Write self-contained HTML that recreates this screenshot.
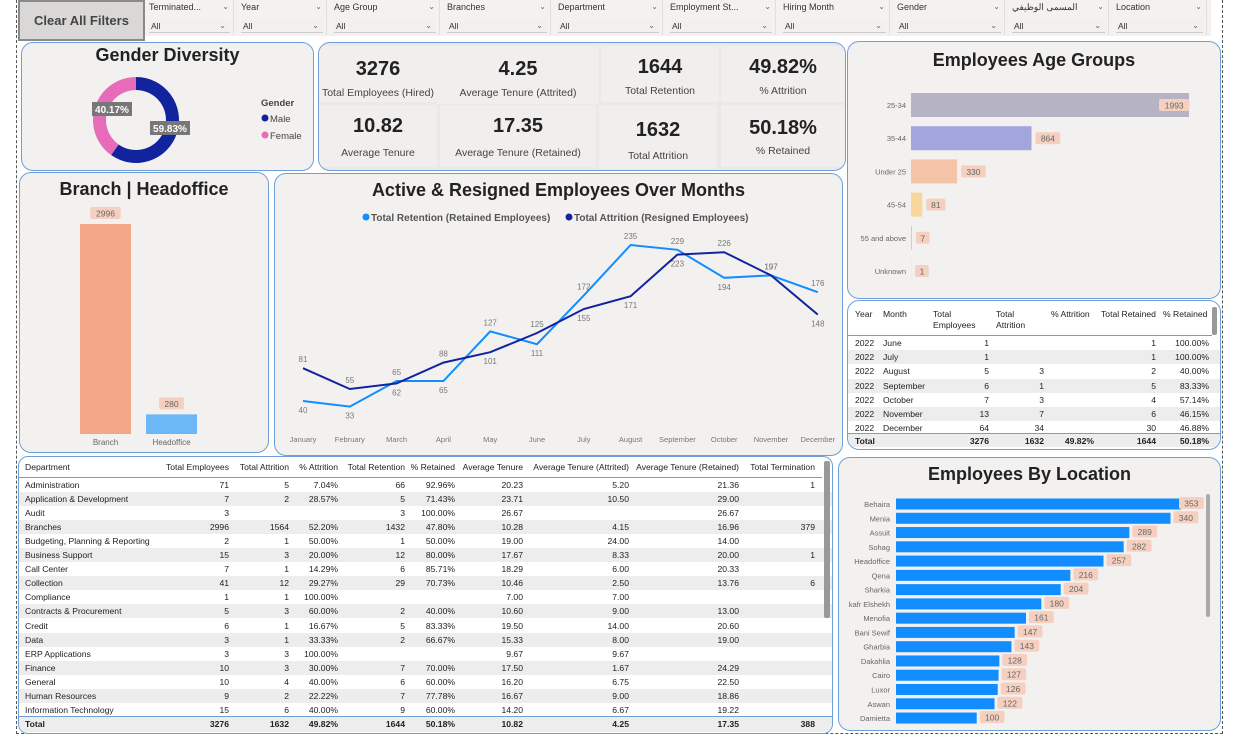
<!DOCTYPE html>
<html><head><meta charset="utf-8">
<style>
*{box-sizing:border-box;margin:0;padding:0}
body{width:1252px;height:735px;background:#fff;position:relative;overflow:hidden;font-family:"Liberation Sans","Noto Sans CJK SC",sans-serif;color:#252423}
.abs{position:absolute}
.panel{position:absolute;background:#f3f1f0;border:1px solid #6f9fd8;border-radius:12px;overflow:hidden}
.title{position:absolute;left:0;right:0;text-align:center;font-weight:bold;font-size:18px;color:#222}
.slicer{position:absolute;top:0;height:35px;font-size:9px;color:#333}
.slicer .t{position:absolute;top:2px;left:3px}
.slicer .v{position:absolute;top:21px;left:3px;right:3px;height:12px;border-bottom:1px solid #ccc;background:#f1f0ef;padding-left:2px;font-size:8.5px}
.chev{position:absolute;right:4px;font-size:8px;color:#666}
.kpi{position:absolute;background:#f1efee;text-align:center}
.kpi .n{position:absolute;left:0;right:0;font-weight:bold;font-size:20px;color:#222}
.kpi .l{position:absolute;left:0;right:0;font-size:10.5px;color:#444}
.tbl{position:absolute;font-size:8.6px;color:#222}
.row{position:absolute;left:0;right:0;height:14px}
.row span{position:absolute;top:2px;white-space:nowrap}
.r{text-align:right}
#over,#over2{z-index:5}
</style></head><body>
<div class="abs" style="left:16px;top:0;width:1207px;height:734px;border:1px dashed #555;border-top:none"></div>
<div class="abs" style="left:18px;top:0;width:127px;height:41px;background:#d9d8d7;border:2px solid #8a8a8a;font-weight:bold;font-size:13px;color:#444;text-align:center;line-height:38px">Clear All Filters</div>
<div class="abs" style="left:145px;top:0;width:1066px;height:36px;background:#f3f2f1"></div>
<div id="slicers"></div>

<div class="panel" style="left:21px;top:42px;width:293px;height:129px">
 <div class="title" style="top:2px">Gender Diversity</div>
 <svg class="abs" style="left:0;top:0" width="293" height="129">
  <g id="donut"></g>
  <rect x="70" y="59" width="40" height="14" fill="#777"/>
  <text x="90" y="70" font-size="10" fill="#fff" text-anchor="middle" font-weight="bold">40.17%</text>
  <rect x="128" y="78" width="40" height="14" fill="#777"/>
  <text x="148" y="89" font-size="10" fill="#fff" text-anchor="middle" font-weight="bold">59.83%</text>
  <text x="239" y="63" font-size="9.5" font-weight="bold" fill="#444">Gender</text>
  <circle cx="243" cy="75" r="3.5" fill="#12239e"/><text x="248" y="79" font-size="9.5" fill="#444">Male</text>
  <circle cx="243" cy="92" r="3.5" fill="#e66cb9"/><text x="248" y="96" font-size="9.5" fill="#444">Female</text>
 </svg>
</div>

<div class="panel" style="left:318px;top:42px;width:528px;height:129px;background:#ebe9e8">
 <div class="kpi" style="left:0;top:3px;width:118px;height:56px"><div class="n" style="top:12px">3276</div><div class="l" style="top:41px">Total Employees (Hired)</div></div>
 <div class="kpi" style="left:118px;top:3px;width:162px;height:58px"><div class="n" style="top:12px">4.25</div><div class="l" style="top:41px">Average Tenure (Attrited)</div></div>
 <div class="kpi" style="left:282px;top:3px;width:118px;height:56px"><div class="n" style="top:10px">1644</div><div class="l" style="top:39px">Total Retention</div></div>
 <div class="kpi" style="left:402px;top:3px;width:124px;height:56px"><div class="n" style="top:10px">49.82%</div><div class="l" style="top:39px">% Attrition</div></div>
 <div class="kpi" style="left:0;top:62px;width:118px;height:62px"><div class="n" style="top:10px">10.82</div><div class="l" style="top:42px">Average Tenure</div></div>
 <div class="kpi" style="left:121px;top:62px;width:156px;height:62px"><div class="n" style="top:10px">17.35</div><div class="l" style="top:42px">Average Tenure (Retained)</div></div>
 <div class="kpi" style="left:280px;top:62px;width:118px;height:64px"><div class="n" style="top:14px">1632</div><div class="l" style="top:45px">Total Attrition</div></div>
 <div class="kpi" style="left:402px;top:62px;width:124px;height:62px"><div class="n" style="top:12px">50.18%</div><div class="l" style="top:40px">% Retained</div></div>
</div>

<div class="panel" style="left:847px;top:41px;width:374px;height:258px">
 <div class="title" style="top:8px">Employees Age Groups</div>
</div>
<svg class="abs" style="left:0;top:0;pointer-events:none" width="1252" height="735" id="over"></svg>

<div class="panel" style="left:19px;top:172px;width:250px;height:281px">
 <div class="title" style="top:6px">Branch | Headoffice</div>
</div>

<div class="panel" style="left:274px;top:173px;width:569px;height:283px">
 <div class="title" style="top:6px">Active &amp; Resigned Employees Over Months</div>
</div>

<div class="panel" style="left:847px;top:300px;width:374px;height:150px;background:#fff">
 <div class="tbl" id="mtbl" style="left:0;top:0;width:374px;height:150px"></div>
 <div class="abs" style="left:364px;top:6px;width:5px;height:28px;background:#999;border-radius:2px"></div>
</div>

<div class="panel" style="left:18px;top:456px;width:815px;height:278px;background:#fff;border-radius:10px">
 <div class="tbl" id="dtbl" style="left:0;top:0;width:815px;height:278px"></div>
 <div class="abs" style="left:805px;top:4px;width:6px;height:157px;background:#999;border-radius:2px"></div>
</div>

<div class="panel" style="left:838px;top:457px;width:383px;height:274px">
 <div class="title" style="top:6px">Employees By Location</div>
 <div class="abs" style="left:367px;top:36px;width:4px;height:123px;background:#aaa;border-radius:2px"></div>
</div>
<svg class="abs" style="left:0;top:0;pointer-events:none" width="1252" height="735" id="over2"></svg>

<script>
const NS='http://www.w3.org/2000/svg';
function el(tag,attrs,parent,txt){const e=document.createElementNS(NS,tag);for(const k in attrs)e.setAttribute(k,attrs[k]);if(txt!==undefined)e.textContent=txt;parent.appendChild(e);return e;}
function h(tag,style,parent,txt){const e=document.createElement(tag);e.style.cssText=style;if(txt!==undefined)e.textContent=txt;parent.appendChild(e);return e;}

// slicers
const slicerNames=['Terminated...','Year','Age Group','Branches','Department','Employment St...','Hiring Month','Gender','المسمى الوظيفي','Location'];
const slicerX=[146,238,331,444,555,667,780,894,1009,1113];
const sl=document.getElementById('slicers');
slicerNames.forEach((n,i)=>{
 const w=(i<slicerX.length-1?slicerX[i+1]:1211)-slicerX[i]-4;
 const d=h('div','left:'+slicerX[i]+'px;width:'+w+'px;background:#f3f2f1;border-right:1px solid #e0dfde',sl);
 d.className='slicer';
 
 
 d.innerHTML='<div class="t">'+n+'</div><div class="chev" style="top:2px">&#8964;</div><div class="v">All<span class="chev" style="top:0">&#8964;</span></div>';
});

// donut
const genderVals=[59.83,40.17];
const genderCols=['#12239e','#e66cb9'];
const dg=document.getElementById('donut');
(function(){const cx=114,cy=77,R=43,r=30;let a0=-Math.PI/2;const tot=genderVals.reduce((a,b)=>a+b,0);
genderVals.forEach((v,i)=>{const a1=a0+v/tot*2*Math.PI;const lg=(a1-a0)>Math.PI?1:0;
const p=`M${cx+R*Math.cos(a0)},${cy+R*Math.sin(a0)} A${R},${R} 0 ${lg} 1 ${cx+R*Math.cos(a1)},${cy+R*Math.sin(a1)} L${cx+r*Math.cos(a1)},${cy+r*Math.sin(a1)} A${r},${r} 0 ${lg} 0 ${cx+r*Math.cos(a0)},${cy+r*Math.sin(a0)} Z`;
const s=el('path',{d:p,fill:genderCols[i]},dg);


a0=a1;});})();

const ov=document.getElementById('over');
const ov2=document.getElementById('over2');
function label(parent,x,y,txt,anchor){const w=txt.length*5.6+8;const bx=anchor==='middle'?x-w/2:x;
el('rect',{x:bx,y:y-8,width:w,height:12,rx:2,fill:'#f5cfbf'},parent);
el('text',{x:bx+w/2,y:y+1.5,'font-size':8.5,fill:'#666','text-anchor':'middle'},parent,txt);}

// age groups
const ageCats=['25-34','35-44','Under 25','45-54','55 and above','Unknown'];
const ageVals=[1993,864,330,81,7,1];
const ageCols=['#b6b3c4','#a2a6dc','#f5c3a8','#f7d79c','#f3c2b0','#f3c2b0'];
const ageX=v=>911+v*(278/1993), ageY=i=>105+i*33.2;
ageCats.forEach((c,i)=>{const y=ageY(i);
 el('text',{x:906,y:y+3,'font-size':7.5,fill:'#666','text-anchor':'end'},ov,c);
 const b=el('rect',{x:911,y:y-12,width:ageX(ageVals[i])-911,height:24,fill:ageCols[i]},ov);
 
 
 const lx=ageX(ageVals[i]);label(ov,i==0?lx-30:lx+4,y+2,String(ageVals[i]));
});

// branch chart
const brCats=['Branch','Headoffice'];
const brVals=[2996,280];
const brCols=['#f2a886','#6cb8f6'];
const brY=v=>434-v*(210/2996);
brCats.forEach((c,i)=>{const x=80+i*66;
 const b=el('rect',{x:x,y:brY(brVals[i]),width:51,height:434-brY(brVals[i]),fill:brCols[i]},ov);
 
 
 label(ov,x+25.5,brY(brVals[i])-9,String(brVals[i]),'middle');
 el('text',{x:x+25.5,y:445,'font-size':8,fill:'#666','text-anchor':'middle'},ov,c);
});

// line chart
const months=['January','February','March','April','May','June','July','August','September','October','November','December'];
const retention=[40,33,65,65,127,111,172,235,229,194,197,176];
const attrition=[81,55,62,88,101,125,155,171,223,226,197,148];
const lx=i=>303+i*46.8, ly=v=>433-0.8*v;
el('circle',{cx:366,cy:217,r:3.5,fill:'#118dff'},ov);
el('text',{x:371,y:221,'font-size':10,'font-weight':'bold',fill:'#555'},ov,'Total Retention (Retained Employees)');
el('circle',{cx:569,cy:217,r:3.5,fill:'#12239e'},ov);
el('text',{x:574,y:221,'font-size':10,'font-weight':'bold',fill:'#555'},ov,'Total Attrition (Resigned Employees)');
months.forEach((m,i)=>el('text',{x:lx(i),y:442,'font-size':7.5,fill:'#777','text-anchor':'middle'},ov,m));
[[retention,'#118dff','retention-line'],[attrition,'#12239e','attrition-line']].forEach(([arr,col,nm])=>{
 const p=el('polyline',{points:arr.map((v,i)=>lx(i)+','+ly(v)).join(' '),fill:'none',stroke:col,'stroke-width':2},ov);
 
 
});
retention.forEach((v,i)=>{const other=attrition[i];const below=v<other;
 el('text',{x:lx(i),y:below?ly(v)+12:ly(v)-6,'font-size':8,fill:'#777','text-anchor':'middle'},ov,String(v));});
attrition.forEach((v,i)=>{const other=retention[i];const below=v<=other&&i!==10;
 el('text',{x:lx(i),y:below?ly(v)+12:ly(v)-6,'font-size':8,fill:'#777','text-anchor':'middle'},ov,String(v));});

// location chart
const locCats=['Behaira','Menia','Assuit','Sohag','Headoffice','Qena','Sharkia','kafr Elshekh','Menofia','Bani Sewif','Gharbia','Dakahlia','Cairo','Luxor','Aswan','Damietta'];
const locVals=[353,340,289,282,257,216,204,180,161,147,143,128,127,126,122,100];
const locX=v=>896+v*(285/353), locY=i=>504+i*14.27;
locCats.forEach((c,i)=>{const y=locY(i);
 el('text',{x:890,y:y+3,'font-size':7.5,fill:'#666','text-anchor':'end'},ov2,c);
 const b=el('rect',{x:896,y:y-5.5,width:locX(locVals[i])-896,height:11,fill:'#118dff'},ov2);
 
 
 label(ov2,locX(locVals[i])+(i==0?-2:3),y+1,String(locVals[i]));
});

// month table
const mRows=[['2022','June','1','','','1','100.00%'],['2022','July','1','','','1','100.00%'],['2022','August','5','3','','2','40.00%'],['2022','September','6','1','','5','83.33%'],['2022','October','7','3','','4','57.14%'],['2022','November','13','7','','6','46.15%'],['2022','December','64','34','','30','46.88%']];
const mt=document.getElementById('mtbl');
const mCols=[[7,'l'],[35,'l'],[141,'r'],[196,'r'],[246,'r'],[308,'r'],[361,'r']];
const mHead=['Year','Month','Total<br>Employees','Total<br>Attrition','% Attrition','Total Retained','% Retained'];
const mhx=[7,35,85,148,203,253,315];
mHead.forEach((t,j)=>{const s=h('span','position:absolute;top:8px;left:'+mhx[j]+'px;line-height:11px',mt);s.innerHTML=t;});
h('div','position:absolute;left:0;right:10px;top:34px;border-top:1px solid #6f9fd8',mt);
mRows.forEach((r,i)=>{const d=h('div','top:'+(35+i*14.2)+'px;background:'+(i%2?'#eeeded':'#fff'),mt);d.className='row';
 
 r.forEach((t,j)=>{const [x,a]=mCols[j];h('span',a==='r'?'right:'+(374-x)+'px':'left:'+x+'px',d,t);});});
const mtot=h('div','top:132px;background:#eeeded;border-top:1px solid #6f9fd8;font-weight:bold',mt);mtot.className='row';

['Total','','3276','1632','49.82%','1644','50.18%'].forEach((t,j)=>{const [x,a]=mCols[j];h('span',a==='r'?'right:'+(374-x)+'px':'left:'+x+'px',mtot,t);});

// dept table
const dHead=['Department','Total Employees','Total Attrition','% Attrition','Total Retention','% Retained','Average Tenure','Average Tenure (Attrited)','Average Tenure (Retained)','Total Termination'];
const dRows=[['Administration','71','5','7.04%','66','92.96%','20.23','5.20','21.36','1'],['Application & Development','7','2','28.57%','5','71.43%','23.71','10.50','29.00',''],['Audit','3','','','3','100.00%','26.67','','26.67',''],['Branches','2996','1564','52.20%','1432','47.80%','10.28','4.15','16.96','379'],['Budgeting, Planning & Reporting','2','1','50.00%','1','50.00%','19.00','24.00','14.00',''],['Business Support','15','3','20.00%','12','80.00%','17.67','8.33','20.00','1'],['Call Center','7','1','14.29%','6','85.71%','18.29','6.00','20.33',''],['Collection','41','12','29.27%','29','70.73%','10.46','2.50','13.76','6'],['Compliance','1','1','100.00%','','','7.00','7.00','',''],['Contracts & Procurement','5','3','60.00%','2','40.00%','10.60','9.00','13.00',''],['Credit','6','1','16.67%','5','83.33%','19.50','14.00','20.60',''],['Data','3','1','33.33%','2','66.67%','15.33','8.00','19.00',''],['ERP Applications','3','3','100.00%','','','9.67','9.67','',''],['Finance','10','3','30.00%','7','70.00%','17.50','1.67','24.29',''],['General','10','4','40.00%','6','60.00%','16.20','6.75','22.50',''],['Human Resources','9','2','22.22%','7','77.78%','16.67','9.00','18.86',''],['Information Technology','15','6','40.00%','9','60.00%','14.20','6.67','19.22','']];
const dTot=['Total','3276','1632','49.82%','1644','50.18%','10.82','4.25','17.35','388'];
const dRight=[0,210,270,319,386,436,504,610,720,796];
const dt=document.getElementById('dtbl');
dHead.forEach((t,j)=>h('span','position:absolute;top:5px;'+(j==0?'left:6px':'right:'+(815-dRight[j])+'px')+';white-space:nowrap',dt,t));
h('div','position:absolute;left:0;right:12px;top:20px;border-top:1px solid #6f9fd8',dt);
dRows.forEach((r,i)=>{const d=h('div','top:'+(21+i*14.05)+'px;background:'+(i%2?'#eeeded':'#fff'),dt);d.className='row';
 
 r.forEach((t,j)=>h('span',j==0?'left:6px':'right:'+(815-dRight[j])+'px',d,t));});
const dt2=h('div','top:259px;background:#eeeded;border-top:1px solid #6f9fd8;font-weight:bold;height:16px',dt);dt2.className='row';

dTot.forEach((t,j)=>h('span',j==0?'left:6px':'right:'+(815-dRight[j])+'px',dt2,t));
</script>
</body></html>
